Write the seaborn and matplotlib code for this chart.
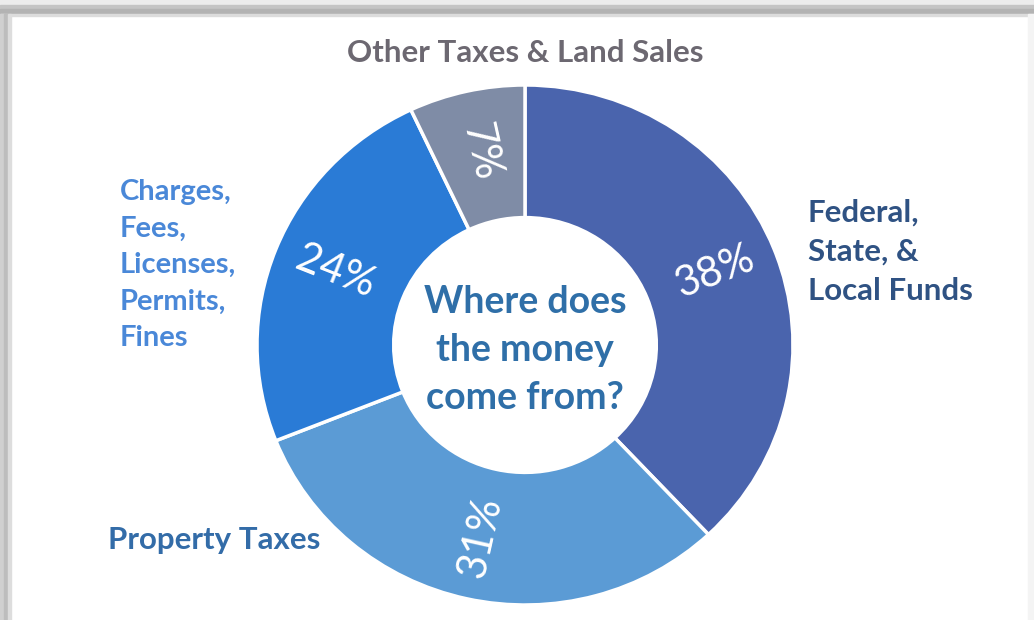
import numpy as np
import matplotlib.pyplot as plt
import seaborn as sns
from matplotlib.patches import Rectangle

# Revenue sources, clockwise from 12 o'clock
sources = ["Federal, State, & Local Funds", "Property Taxes",
           "Charges, Fees, Licenses, Permits, Fines", "Other Taxes & Land Sales"]
shares = [38, 31, 24, 7]
wedge_colors = ["#4a64ad", "#5b9bd5", "#2a7bd6", "#7f8ca6"]

sns.set_theme(style="white")
plt.rcParams['font.family'] = ['Lato', 'DejaVu Sans']

fig = plt.figure(figsize=(10.34, 6.2), dpi=100)
fig.patch.set_facecolor("white")

# screenshot shadow along the top and left edges
W, H = 1034, 620
for y0, h, c in [(0, 5, "#ececec"), (5, 4, "#c4c4c4"), (9, 5, "#b3b3b3"), (14, 2, "#dcdcdc")]:
    fig.patches.append(Rectangle((0, (H - y0 - h) / H), 1, h / H, transform=fig.transFigure,
                                 color=c, zorder=0))
for x0, w, c in [(0, 4, "#d0d0d0"), (4, 4, "#bdbdbd"), (8, 3, "#dddddd")]:
    fig.patches.append(Rectangle((x0 / W, 0), w / W, (H - 14) / H, transform=fig.transFigure,
                                 color=c, zorder=0))
fig.patches.append(Rectangle(((W - 6) / W, 0), 6 / W, (H - 14) / H, transform=fig.transFigure,
                             color="#f4f4f4", zorder=0))

ax = fig.add_axes([257 / W, 15 / H, 536 / W, 520 / H])
wedges, _ = ax.pie(shares, colors=wedge_colors, startangle=90, counterclock=False,
                   radius=1.0, wedgeprops=dict(width=0.51, edgecolor="white", linewidth=2.5))
ax.set_aspect("auto")
ax.set_xlim(-1, 1)
ax.set_ylim(-1, 1)
ax.axis("off")

# percentage labels laid along the radius
for w, val in zip(wedges, shares):
    mid = np.deg2rad((w.theta1 + w.theta2) / 2)
    ang = np.rad2deg(mid)
    rot = (ang + 90) % 180 - 90
    r = 0.76
    ax.text(r * np.cos(mid), r * np.sin(mid), f"{val}%", color="white", fontsize=30,
            rotation=rot, rotation_mode="anchor", ha="center", va="center")

ax.text(0, -0.02, "Where does\nthe money\ncome from?", ha="center", va="center",
        fontsize=27, fontweight="bold", color="#2f6fa8", linespacing=1.5)

# category labels outside the ring
fig.text(525 / W, 1 - 53 / H, "Other Taxes & Land Sales", ha="center", va="center",
         fontsize=22.5, fontweight="bold", color="#6c6871")
fig.text(808 / W, 1 - 252 / H, "Federal,\nState, &\nLocal Funds", ha="left", va="center",
         fontsize=22.5, fontweight="bold", color="#2f5283", linespacing=1.5)
fig.text(120 / W, 1 - 265 / H, "Charges,\nFees,\nLicenses,\nPermits,\nFines", ha="left",
         va="center", fontsize=21, fontweight="bold", color="#4a88d8", linespacing=1.5)
fig.text(108 / W, 1 - 540 / H, "Property Taxes", ha="left", va="center",
         fontsize=22.5, fontweight="bold", color="#336ca8")

fig.savefig("out.png", dpi=100)
